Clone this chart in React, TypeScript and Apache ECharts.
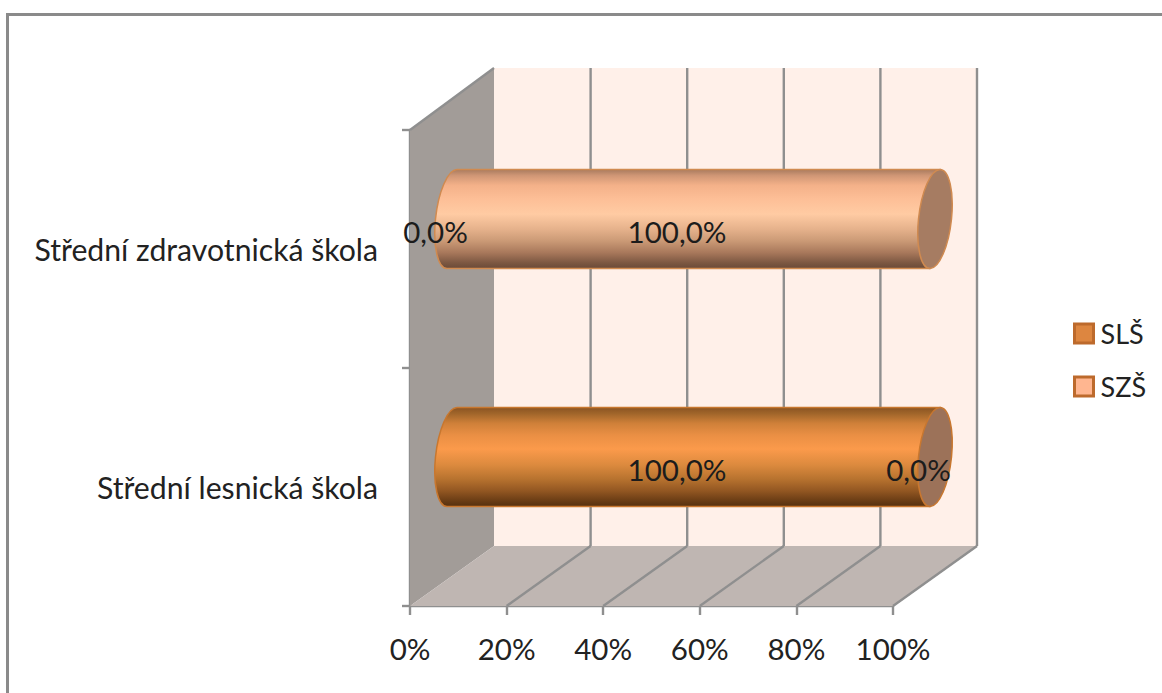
import React, { useEffect, useRef } from "react";
import * as echarts from "echarts";

const categories = ["Střední lesnická škola", "Střední zdravotnická škola"];
const seriesNames = ["SLŠ", "SZŠ"];
const sls = [100, 0];
const szs = [0, 100];
const percentTicks = [0, 20, 40, 60, 80, 100];

// Receding depth of the 3D box, in pixels
const DEPTH_X = 84;
const DEPTH_Y = -60;
const TOP_OVERSHOOT = 2;
const FONT = "Lato, 'Open Sans', sans-serif";
const GRID_COLOR = "#8f8f8f";

const slsStops = [
  [0, "#8a5322"], [0.06, "#a0652a"], [0.16, "#cf8039"], [0.28, "#ea8f44"], [0.42, "#fb9a4b"], [0.58, "#dc8a3e"], [0.72, "#b8732f"], [0.84, "#935722"], [0.94, "#6b3d15"], [1, "#55300f"],
];
const szsStops = [
  [0, "#a87a5e"], [0.06, "#cf9675"], [0.16, "#f4b189"], [0.3, "#fdbf97"], [0.45, "#ffcba3"], [0.6, "#e6b28c"], [0.72, "#cb9a76"], [0.84, "#a8785b"], [0.94, "#7d5842"], [1, "#6a4a38"],
];

function gradient(stops: (number | string)[][]) {
  return new echarts.graphic.LinearGradient(
    0, 0, 0, 1,
    stops.map(([offset, color]) => ({ offset: offset as number, color: color as string })),
  );
}

// Sheared ellipse outline as four cubic segments, starting at the top point
function capPath(cx: number, cy: number, rx: number, ry: number, shear: number) {
  const k = 0.5523;
  const p = (u: number, v: number) => `${cx + rx * u - shear * v} ${cy + ry * v}`;
  return (
    `M${p(0, -1)}C${p(k, -1)} ${p(1, -k)} ${p(1, 0)}` +
    `C${p(1, k)} ${p(k, 1)} ${p(0, 1)}` +
    `C${p(-k, 1)} ${p(-1, k)} ${p(-1, 0)}` +
    `C${p(-1, -k)} ${p(-k, -1)} ${p(0, -1)}Z`
  );
}

function bodyPath(xl: number, xr: number, cy: number, rx: number, ry: number, shear: number) {
  const k = 0.5523;
  const p = (u: number, v: number) => `${xl + rx * u - shear * v} ${cy + ry * v}`;
  return (
    `M${xr + shear} ${cy - ry}L${p(0, -1)}` +
    `C${p(-k, -1)} ${p(-1, -k)} ${p(-1, 0)}` +
    `C${p(-1, k)} ${p(-k, 1)} ${p(0, 1)}` +
    `L${xr - shear} ${cy + ry}Z`
  );
}

// Side wall, back wall, floor and the gridlines of the box
function renderBox(params: any, api: any) {
  const rect = params.coordSys;
  const value = api.value(0);
  const x = api.coord([value, 0])[0];
  const top = rect.y;
  const bottom = rect.y + rect.height;
  const backTop = top + DEPTH_Y - TOP_OVERSHOOT;
  const line = (x1: number, y1: number, x2: number, y2: number) => ({
    type: "line",
    shape: { x1, y1, x2, y2 },
    style: { stroke: GRID_COLOR, lineWidth: 2.4 },
    z2: 5,
  });
  const children: any[] = [];
  if (params.dataIndex === 0) {
    const right = rect.x + rect.width;
    children.push(
      {
        type: "polygon",
        shape: { points: [[rect.x + DEPTH_X, backTop], [right + DEPTH_X, backTop], [right + DEPTH_X, bottom + DEPTH_Y], [rect.x + DEPTH_X, bottom + DEPTH_Y]] },
        style: { fill: "#fff0e9" },
        z2: 1,
      },
      {
        type: "polygon",
        shape: { points: [[rect.x, top], [rect.x + DEPTH_X, backTop], [rect.x + DEPTH_X, bottom + DEPTH_Y], [rect.x, bottom]] },
        style: { fill: "#a29c98" },
        z2: 2,
      },
      {
        type: "polygon",
        shape: { points: [[rect.x, bottom], [right, bottom], [right + DEPTH_X, bottom + DEPTH_Y], [rect.x + DEPTH_X, bottom + DEPTH_Y]] },
        style: { fill: "#bfb6b2" },
        z2: 2,
      },
      line(rect.x, top, rect.x + DEPTH_X, backTop),
    );
    return { type: "group", children };
  }
  children.push(
    line(x, bottom, x + DEPTH_X, bottom + DEPTH_Y),
    line(x + DEPTH_X, bottom + DEPTH_Y, x + DEPTH_X, backTop),
  );
  return { type: "group", children };
}

// One stacked cylinder segment with its value label
function cylinderRenderer(stops: (number | string)[][], capFill: string, edge: string) {
  return (params: any, api: any) => {
    const cat = api.value(0);
    const start = api.value(1);
    const end = api.value(2);
    const [x0, yc] = api.coord([start, cat]);
    const x1 = api.coord([end, cat])[0];
    const band = api.size([0, 1])[1];
    const ry = band * 0.208;
    const rx = 16.5;
    const shear = 5;
    const cy = yc + DEPTH_Y / 2;
    const xl = x0 + DEPTH_X / 2;
    const xr = x1 + DEPTH_X / 2;
    const mid = (x0 + x1) / 2;
    const children: any[] = [];
    if (end > start) {
      children.push(
        {
          type: "path",
          shape: { pathData: bodyPath(xl, xr, cy, rx, ry, shear) },
          style: { fill: gradient(stops), stroke: edge, lineWidth: 1.5 },
          z2: 10,
        },
        {
          type: "path",
          shape: { pathData: capPath(xr, cy, rx, ry, shear) },
          style: { fill: capFill, stroke: edge, lineWidth: 1.5 },
          z2: 11,
        },
      );
    }
    children.push({
      type: "text",
      x: mid + 25.5,
      y: yc - 17.5,
      style: {
        text: `${(end - start).toFixed(1).replace(".", ",")}%`,
        fill: "#1c1c1c",
        font: `29.5px ${FONT}`,
        align: "center",
        verticalAlign: "middle",
      },
      z2: 100,
    });
    return { type: "group", children };
  };
}

function segments(values: number[], before: number[]) {
  return values.map((v, i) => [i, before[i], before[i] + v]);
}

export default function App() {
  const ref = useRef<HTMLDivElement>(null);
  useEffect(() => {
    const chart = echarts.init(ref.current!, null, { renderer: "svg" });
    const axisLine = { lineStyle: { color: GRID_COLOR, width: 2.4 } };
    chart.setOption({
      animation: false,
      backgroundColor: "#ffffff",
      grid: { left: 410, top: 130, width: 483, height: 476 },
      legend: {
        left: 1068,
        top: 315,
        orient: "vertical",
        itemWidth: 19,
        itemHeight: 19,
        itemGap: 26,
        textStyle: { fontFamily: FONT, fontSize: 27, color: "#222222", padding: [0, 0, 0, 2] },
        data: [
          { name: seriesNames[0], icon: "rect", itemStyle: { color: "#dd8640", borderColor: "#bd6a2c", borderWidth: 3 } },
          { name: seriesNames[1], icon: "rect", itemStyle: { color: "#ffb690", borderColor: "#bd6a2c", borderWidth: 3 } },
        ],
      },
      xAxis: {
        type: "value",
        min: 0,
        max: 100,
        interval: 20,
        splitLine: { show: false },
        axisLine: { show: true, ...axisLine },
        axisTick: { show: true, length: 9, lineStyle: { color: GRID_COLOR, width: 2.4 } },
        axisLabel: { formatter: "{value}%", margin: 27, color: "#222222", fontFamily: FONT, fontSize: 29.5 },
      },
      yAxis: {
        type: "category",
        data: categories,
        axisLine: { show: true, ...axisLine },
        axisTick: { show: true, length: 8, lineStyle: { color: GRID_COLOR, width: 2.4 } },
        axisLabel: { margin: 32, color: "#222222", fontFamily: FONT, fontSize: 30.2, padding: [2, 0, 0, 0] },
      },
      series: [
        {
          type: "custom",
          name: "box",
          silent: true,
          clip: false,
          z: 1,
          renderItem: renderBox,
          encode: { x: 0 },
          data: percentTicks.map((t) => [t]),
        },
        {
          type: "custom",
          name: seriesNames[0],
          silent: true,
          clip: false,
          z: 3,
          renderItem: cylinderRenderer(slsStops, "#9c7259", "#c8772f"),
          encode: { x: [1, 2], y: 0 },
          data: segments(sls, [0, 0]),
        },
        {
          type: "custom",
          name: seriesNames[1],
          silent: true,
          clip: false,
          z: 3,
          renderItem: cylinderRenderer(szsStops, "#a67c62", "#d08a50"),
          encode: { x: [1, 2], y: 0 },
          data: segments(szs, sls),
        },
      ],
      graphic: [
        {
          type: "polyline",
          silent: true,
          shape: { points: [[7.5, 693], [7.5, 14.5], [1162, 14.5]] },
          style: { stroke: "#8a8a8a", fill: "none", lineWidth: 3 },
        },
      ],
    });
    return () => chart.dispose();
  }, []);
  return <div ref={ref} style={{ position: "fixed", left: 0, top: 0, width: 1162, height: 693 }} />;
}
